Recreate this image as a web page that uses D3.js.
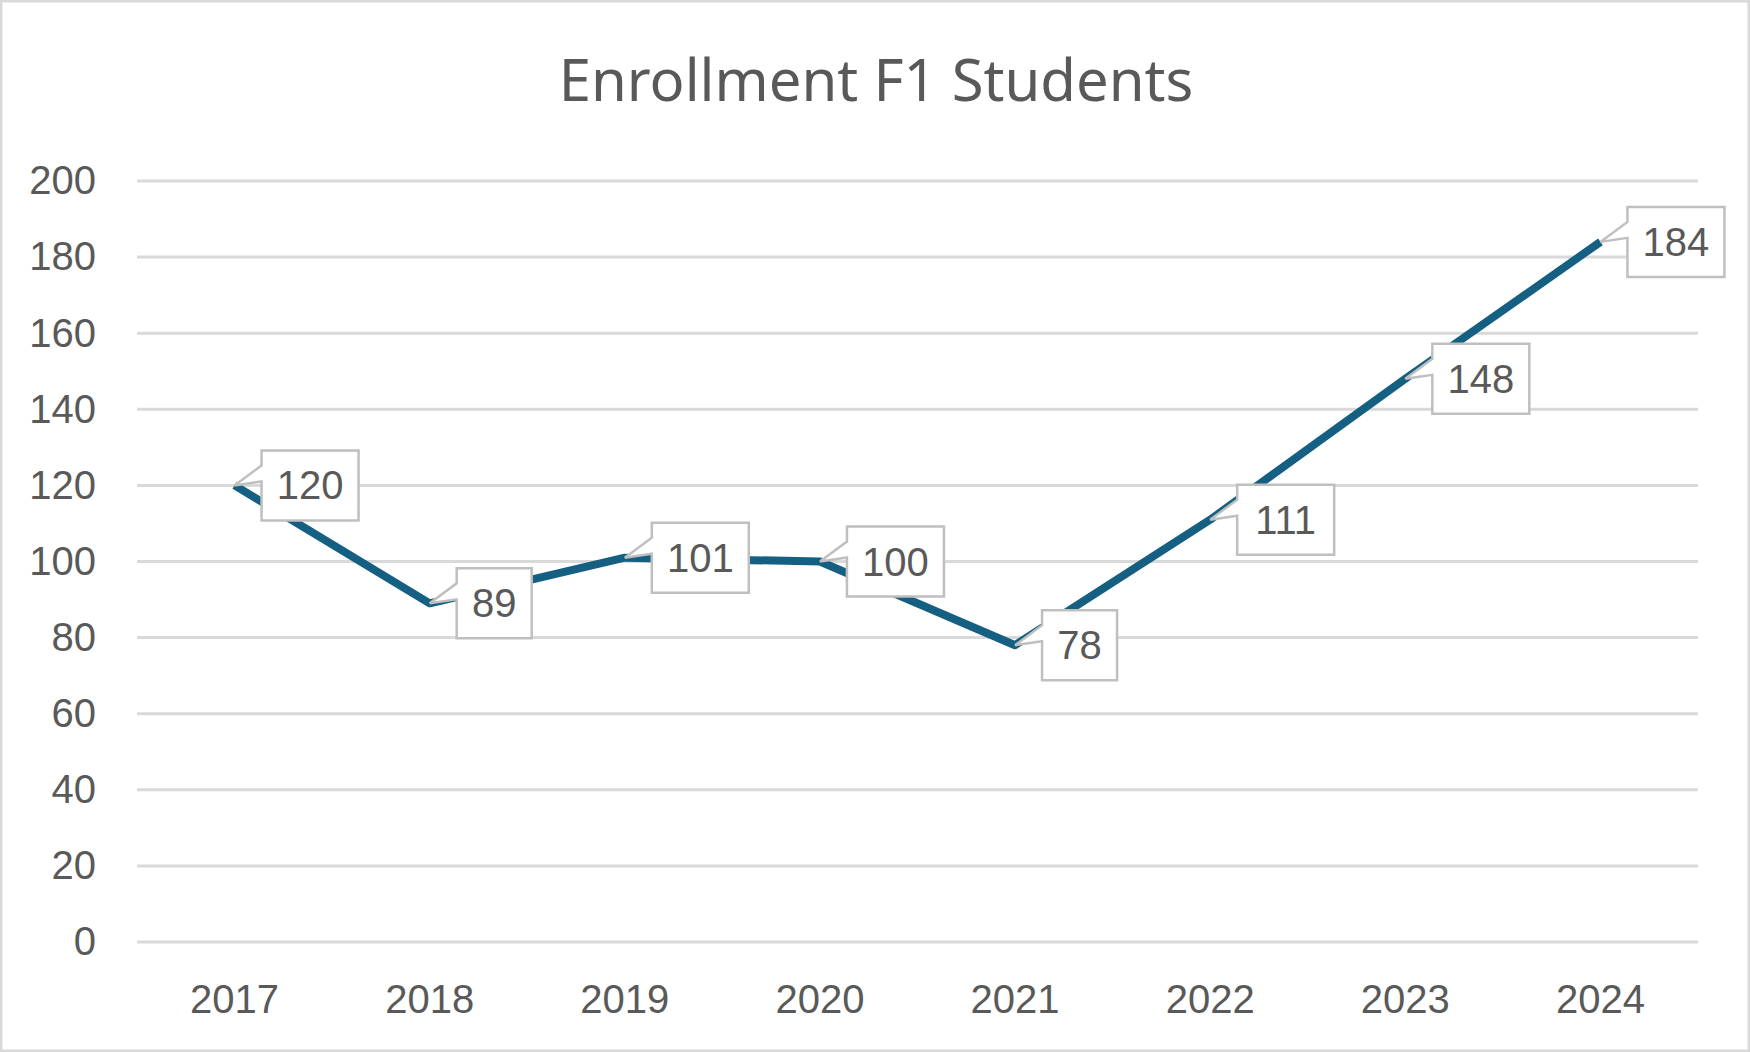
<!DOCTYPE html>
<html>
<head>
<meta charset="utf-8">
<script src="https://cdn.jsdelivr.net/npm/d3@7"></script>
<style>
  html, body { margin: 0; padding: 0; background: #fff; }
</style>
</head>
<body>
<svg id="chart" width="1750" height="1052"></svg>
<script>
// Data
const years = ["2017", "2018", "2019", "2020", "2021", "2022", "2023", "2024"];
const enrollment = [120, 89, 101, 100, 78, 111, 148, 184];
const yTicks = [0, 20, 40, 60, 80, 100, 120, 140, 160, 180, 200];
const titleText = "Enrollment F1 Students";

const width = 1750;
const height = 1052;
const textColor = "#595959";
const gridColor = "#d9d9d9";
const lineColor = "#156082";
const labelFont = "'Liberation Sans', Arial, sans-serif";
const titleFont = "'Noto Sans', 'Open Sans', sans-serif";

const svg = d3.select("#chart");

// Chart border
svg.append("rect")
  .attr("x", 1)
  .attr("y", 1)
  .attr("width", width - 2)
  .attr("height", height - 2)
  .attr("fill", "#fff")
  .attr("stroke", gridColor)
  .attr("stroke-width", 3);

// Plot area
const plot = { left: 137, right: 1698, top: 181, bottom: 942 };

const x = d3.scaleBand()
  .domain(years)
  .range([plot.left, plot.right]);

const y = d3.scaleLinear()
  .domain([0, 200])
  .range([plot.bottom, plot.top]);

// Title
svg.append("text")
  .attr("x", 876)
  .attr("y", 101)
  .attr("text-anchor", "middle")
  .attr("fill", textColor)
  .attr("font-size", 58)
  .style("font-family", titleFont)
  .text(titleText);

// Gridlines
svg.append("g")
  .selectAll("line")
  .data(yTicks)
  .join("line")
  .attr("x1", plot.left)
  .attr("x2", plot.right)
  .attr("y1", d => y(d))
  .attr("y2", d => y(d))
  .attr("stroke", gridColor)
  .attr("stroke-width", 3);

// Y axis labels
const yAxis = svg.append("g")
  .attr("transform", `translate(${plot.left - 41},0)`)
  .call(d3.axisLeft(y).tickValues(yTicks).tickSize(0).tickPadding(0));
yAxis.select(".domain").remove();
yAxis.selectAll("text")
  .attr("fill", textColor)
  .attr("font-size", 40)
  .style("font-family", labelFont);

// X axis labels
const xAxis = svg.append("g")
  .attr("transform", `translate(0,${plot.bottom + 57})`)
  .call(d3.axisBottom(x).tickSize(0).tickPadding(0));
xAxis.select(".domain").remove();
xAxis.selectAll("text")
  .attr("fill", textColor)
  .attr("font-size", 40)
  .attr("dy", "0.35em")
  .style("font-family", labelFont);

// Line
const cx = d => x(d) + x.bandwidth() / 2;
const line = d3.line()
  .x((d, i) => cx(years[i]))
  .y(d => y(d));

svg.append("path")
  .datum(enrollment)
  .attr("d", line)
  .attr("fill", "none")
  .attr("stroke", lineColor)
  .attr("stroke-width", 8)
  .attr("stroke-linejoin", "round");

// Callout labels
const labels = svg.append("g");
enrollment.forEach((v, i) => {
  const px = cx(years[i]);
  const py = y(v);
  const txt = String(v);
  const boxW = txt.length * 22 + 31;
  const left = px + 27;
  const top = py - 35;
  const right = left + boxW;
  const bottom = top + 70;

  labels.append("path")
    .attr("d", `M${left},${top}H${right}V${bottom}H${left}V${py - 4}L${px},${py}L${left},${py - 20}Z`)
    .attr("fill", "#fff")
    .attr("stroke", "#bfbfbf")
    .attr("stroke-width", 2.5)
    .attr("stroke-linejoin", "miter");

  labels.append("text")
    .attr("x", left + boxW / 2)
    .attr("y", top + 35)
    .attr("dy", "0.35em")
    .attr("text-anchor", "middle")
    .attr("fill", textColor)
    .attr("font-size", 40)
    .style("font-family", labelFont)
    .text(txt);
});
</script>
</body>
</html>
